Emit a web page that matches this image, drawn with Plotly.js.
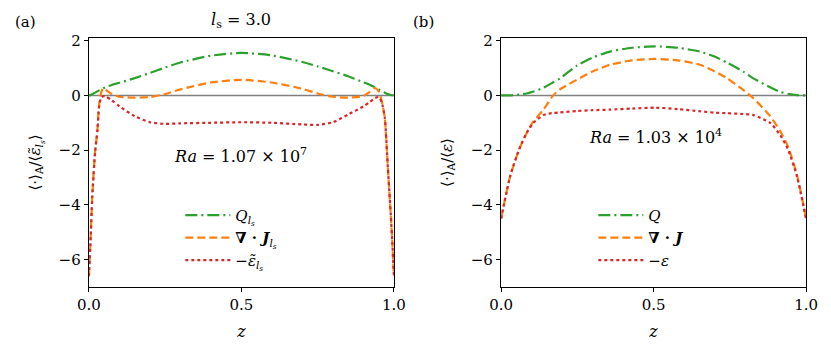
<!DOCTYPE html>
<html>
<head>
<meta charset="utf-8">
<script src="https://cdn.plot.ly/plotly-3.0.1.min.js"></script>
<style>
  body { margin: 0; background: #fff; }
  #chart { width: 831px; height: 354px; }
</style>
</head>
<body>
<div id="chart"></div>
<script>
// panel (a): l_s = 3.0, Ra = 1.07e7
const zA    = [0, 0.005, 0.011, 0.02, 0.028, 0.033, 0.04, 0.047, 0.055, 0.075, 0.1, 0.15, 0.2, 0.25, 0.3, 0.4, 0.5, 0.6, 0.7, 0.75, 0.8, 0.85, 0.9, 0.92, 0.938, 0.95, 0.96, 0.97, 0.975, 0.98, 0.985, 0.99, 0.995, 1.0];
const qA    = [0, 0.01, 0.05, 0.1, 0.15, 0.18, 0.22, 0.26, 0.3, 0.38, 0.46, 0.63, 0.82, 1.02, 1.2, 1.45, 1.55, 1.46, 1.22, 1.06, 0.88, 0.7, 0.48, 0.39, 0.3, 0.22, 0.16, 0.1, 0.07, 0.05, 0.03, 0.015, 0.005, 0];
const divJA = [-6.6, -5.4, -3.7, -2.1, -1.25, -0.4, 0.1, 0.27, 0.2, 0.05, -0.05, -0.08, -0.06, 0.05, 0.22, 0.47, 0.57, 0.47, 0.24, 0.07, -0.05, -0.08, -0.02, 0.12, 0.27, 0.15, -0.2, -0.8, -1.6, -2.6, -3.5, -4.4, -5.4, -6.6];
const epsA  = [-6.6, -5.4, -3.7, -2.1, -1.25, -0.45, -0.08, -0.03, -0.04, -0.18, -0.4, -0.76, -0.98, -1.04, -1.02, -1.0, -0.98, -1.0, -1.06, -1.08, -0.98, -0.7, -0.4, -0.25, -0.1, -0.06, -0.25, -0.8, -1.6, -2.6, -3.5, -4.4, -5.4, -6.6];

// panel (b): Ra = 1.03e4
const zB    = [0, 0.03, 0.06, 0.084, 0.106, 0.139, 0.171, 0.193, 0.248, 0.3, 0.357, 0.43, 0.505, 0.58, 0.652, 0.7, 0.74, 0.794, 0.827, 0.882, 0.915, 0.94, 0.97, 1.0];
const qB    = [0, 0.0, 0.03, 0.07, 0.14, 0.28, 0.48, 0.62, 1.08, 1.38, 1.6, 1.74, 1.79, 1.74, 1.6, 1.42, 1.2, 0.87, 0.62, 0.3, 0.13, 0.06, 0.01, 0];
const divJB = [-4.5, -2.94, -1.95, -1.37, -0.95, -0.52, 0.0, 0.22, 0.57, 0.87, 1.12, 1.28, 1.33, 1.28, 1.12, 0.88, 0.63, 0.2, -0.1, -0.75, -1.3, -1.85, -2.9, -4.5];
const epsB  = [-4.5, -2.94, -1.95, -1.37, -1.0, -0.72, -0.64, -0.62, -0.57, -0.54, -0.52, -0.48, -0.45, -0.5, -0.58, -0.63, -0.65, -0.68, -0.72, -1.0, -1.45, -1.95, -2.95, -4.5];

const GREEN = '#2ca02c', ORANGE = '#ff7f0e', RED = '#d62728';
const FONT = 'DejaVu Serif';

const LS = '<i>l</i><sub>s</sub>';
const namesA = ['<i>Q</i><sub><i>l<sub>s</sub></i></sub>',
                '<b>∇ · <i>J</i></b><sub><i>l<sub>s</sub></i></sub>',
                '−<i>ε̃</i><sub><i>l<sub>s</sub></i></sub>'];
const namesB = ['<i>Q</i>', '<b>∇ · <i>J</i></b>', '−<i>ε</i>'];

function trace(x, y, name, color, dash, xa, ya, leg) {
  return {
    x: x, y: y, name: name, xaxis: xa, yaxis: ya, legend: leg,
    mode: 'lines', type: 'scatter',
    line: { color: color, dash: dash, width: 2.2, shape: 'spline', smoothing: 0.6 },
    cliponaxis: true
  };
}

const zeroA = { x: [0, 1], y: [0, 0], xaxis: 'x', yaxis: 'y', mode: 'lines', showlegend: false,
  line: { color: '#808080', width: 1.5 }, hoverinfo: 'skip' };
const zeroB = Object.assign({}, zeroA, { xaxis: 'x2', yaxis: 'y2' });

const DASHDOT = '12px,4px,2px,4px';
const DASH = '8px,4px';

const data = [
  zeroA, zeroB,
  trace(zA, qA, namesA[0], GREEN, DASHDOT, 'x', 'y', 'legend'),
  trace(zA, divJA, namesA[1], ORANGE, DASH, 'x', 'y', 'legend'),
  trace(zA, epsA, namesA[2], RED, 'dot', 'x', 'y', 'legend'),
  trace(zB, qB, namesB[0], GREEN, DASHDOT, 'x2', 'y2', 'legend2'),
  trace(zB, divJB, namesB[1], ORANGE, DASH, 'x2', 'y2', 'legend2'),
  trace(zB, epsB, namesB[2], RED, 'dot', 'x2', 'y2', 'legend2')
];

function xaxis(domain, anchor) {
  return {
    domain: domain, anchor: anchor, range: [0, 1],
    tickvals: [0, 0.5, 1], ticktext: ['0.0', '0.5', '1.0'],
    ticks: 'outside', ticklen: 4, tickcolor: '#000',
    showline: true, linecolor: '#000', linewidth: 1.2, mirror: true,
    showgrid: false, zeroline: false,
    tickfont: { family: FONT, size: 15, color: '#000' },
    title: { text: '<i>z</i>', font: { family: FONT, size: 16, color: '#000' }, standoff: 12 }
  };
}
function yaxis(anchor, title) {
  return {
    domain: [0.189, 0.893], anchor: anchor, range: [-7, 2.1],
    tickvals: [2, 0, -2, -4, -6], ticktext: ['2', '0', '−2', '−4', '−6'],
    ticks: 'outside', ticklen: 4, tickcolor: '#000',
    showline: true, linecolor: '#000', linewidth: 1.2, mirror: true,
    showgrid: false, zeroline: false,
    tickfont: { family: FONT, size: 15, color: '#000' },
    title: { text: title, font: { family: FONT, size: 15, color: '#000' }, standoff: 14 }
  };
}

function legend(x) {
  return {
    x: x, y: 0.328, xanchor: 'left', yanchor: 'middle',
    bgcolor: 'rgba(0,0,0,0)', borderwidth: 0,
    font: { family: FONT, size: 15, color: '#000' },
    itemwidth: 45, tracegroupgap: 0
  };
}

const ann = (x, y, text, size) => ({
  xref: 'paper', yref: 'paper', x: x, y: y, text: text, showarrow: false,
  xanchor: 'center', yanchor: 'middle', font: { family: FONT, size: size || 15, color: '#000' }
});

const layout = {
  width: 831, height: 354,
  margin: { l: 0, r: 0, t: 0, b: 0 },
  font: { family: FONT, color: '#000' },
  paper_bgcolor: '#fff', plot_bgcolor: '#fff',
  showlegend: true,
  xaxis: xaxis([0.107, 0.474], 'y'),
  yaxis: yaxis('x', '⟨·⟩<sub>A</sub>/⟨<i>ε̃</i><sub><i>l<sub>s</sub></i></sub>⟩'),
  xaxis2: xaxis([0.603, 0.970], 'y2'),
  yaxis2: yaxis('x2', '⟨·⟩<sub>A</sub>/⟨<i>ε</i>⟩'),
  legend: legend(0.217),
  legend2: legend(0.714),
  annotations: [
    ann(25 / 831, 1 - 22 / 354, '(a)'),
    ann(423 / 831, 1 - 22 / 354, '(b)'),
    ann(241 / 831, 1 - 20 / 354, LS + ' = 3.0', 16),
    ann(240 / 831, 1 - 155 / 354, '<i>Ra</i> = 1.07 × 10<sup>7</sup>', 16),
    ann(655 / 831, 1 - 136 / 354, '<i>Ra</i> = 1.03 × 10<sup>4</sup>', 16)
  ]
};

Plotly.newPlot('chart', data, layout, { displayModeBar: false, staticPlot: true });
</script>
</body>
</html>
